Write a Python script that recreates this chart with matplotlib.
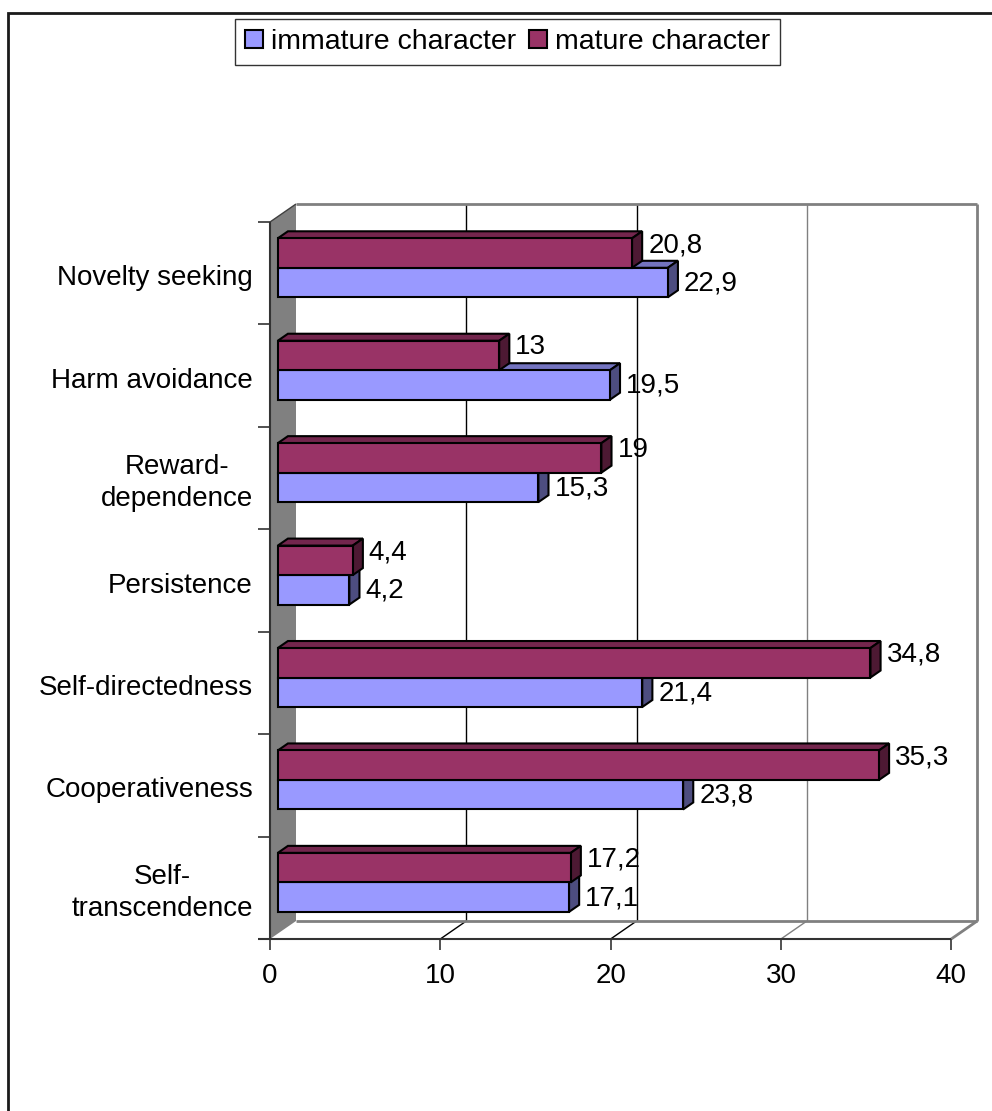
import matplotlib
matplotlib.use("Agg")
import matplotlib.pyplot as plt
from matplotlib.patches import Polygon, Rectangle, Patch

plt.rcParams['font.family'] = ['Liberation Sans', 'DejaVu Sans']

categories = ["Novelty seeking", "Harm avoidance", "Reward-\ndependence",
              "Persistence", "Self-directedness", "Cooperativeness",
              "Self-\ntranscendence"]
immature = [22.9, 19.5, 15.3, 4.2, 21.4, 23.8, 17.1]
mature = [20.8, 13, 19, 4.4, 34.8, 35.3, 17.2]
series_names = ["immature character", "mature character"]
xticks = [0, 10, 20, 30, 40]

# colours: front, top, side
IMM = ("#9999FF", "#7373BF", "#4D4D80")
MAT = ("#993366", "#73264D", "#4D1933")

W, H = 992, 1111
PX = 17.03      # pixels per value unit (front plane)
X0, Y0 = 270, 222
ROW = 102.43    # pixels per category

fig = plt.figure(figsize=(W / 100, H / 100), dpi=100)
ax = fig.add_axes([0, 0, 1, 1])
ax.axis("off")
ax.set_xlim(-X0 / PX, (W - X0) / PX)
ax.set_ylim((H - Y0) / ROW, -Y0 / ROW)

DX = 26 / PX
DY = -18 / ROW
n = len(categories)
vmax = xticks[-1]


def at(x, y, t):
    return (x + t * DX, y + t * DY)


def line(p, q, **kw):
    ax.plot([p[0], q[0]], [p[1], q[1]], solid_capstyle="butt", **kw)


# outer border
fig.patches.append(Rectangle((8 / W, -0.05), 1.2, 1 - 13 / H + 0.05,
                             transform=fig.transFigure, fill=False,
                             lw=2, ec="#1a1a1a"))

# left wall
ax.add_patch(Polygon([at(0, 0, 0), at(0, 0, 1), at(0, n, 1), at(0, n, 0)],
                     closed=True, fc="#808080", ec="none", zorder=1))

# back wall grid and floor
for v in xticks[1:]:
    c = "black" if v < 30 else "#808080"
    lw = 1 if v < vmax else 2
    line(at(v, 0, 1), at(v, n, 1), color=c, lw=lw, zorder=1)
    line(at(v, n, 0), at(v, n, 1), color=c, lw=lw, zorder=1)
line(at(0, 0, 1), at(vmax, 0, 1), color="#808080", lw=2, zorder=1)
line(at(0, n, 1), at(vmax, n, 1), color="#808080", lw=2, zorder=1)
line(at(0, 0, 0), at(0, 0, 1), color="#404040", lw=1, zorder=1)

# axes lines and ticks
line((-12 / PX, n), (vmax, n), color="#333333", lw=1.5, zorder=2)
line((0, 0), (0, n), color="#333333", lw=1.5, zorder=2)
for k in range(n + 1):
    line((-12 / PX, k), (0, k), color="#333333", lw=1.2, zorder=2)
for v in xticks:
    line((v, n), (v, n + 11 / ROW), color="#333333", lw=1.2, zorder=2)
    ax.text(v, n + 37 / ROW, str(v), ha="center", va="center", fontsize=20)

# category labels
for i, cat in enumerate(categories):
    ax.text(-17 / PX, i + 0.5 + 5 / ROW, cat, ha="right", va="center",
            multialignment="center", fontsize=20, linespacing=1.3)

T0, T1 = 0.3, 0.69
BH = 0.288


def draw_series(vals, cols, top_offset, lab_dy, z):
    for i, v in enumerate(vals):
        ytop = i + 0.5 + top_offset
        ybot = ytop + BH
        ax.add_patch(Polygon([at(0, ytop, T0), at(v, ytop, T0),
                              at(v, ytop, T1), at(0, ytop, T1)],
                             closed=True, fc=cols[1], ec="black", lw=1.5,
                             joinstyle="miter", zorder=z))
        ax.add_patch(Polygon([at(v, ytop, T0), at(v, ytop, T1),
                              at(v, ybot, T1), at(v, ybot, T0)],
                             closed=True, fc=cols[2], ec="black", lw=1.5,
                             joinstyle="miter", zorder=z))
        lx, ly = at(v, ytop + BH / 2, T1)
        ax.text(lx + 6 / PX, ytop + BH / 2 + T0 * DY + lab_dy / ROW,
                f"{v:g}".replace(".", ","), ha="left", va="center",
                fontsize=20, zorder=6)
    ys = [i + 0.5 + top_offset + BH / 2 + T0 * DY for i in range(len(vals))]
    ax.barh(ys, vals, height=BH, left=T0 * DX, color=cols[0],
            edgecolor="black", linewidth=1.5, zorder=z + 0.5)


draw_series(immature, IMM, 0.0, 1, 3)
draw_series(mature, MAT, -BH, -8, 4)

handles = [Patch(fc=IMM[0], ec="black", lw=1.5), Patch(fc=MAT[0], ec="black", lw=1.5)]
leg = fig.legend(handles, series_names, loc="center",
                 bbox_to_anchor=(507.5 / W, 1 - 42 / H), ncol=2, fontsize=20.5,
                 frameon=True, fancybox=False, edgecolor="black",
                 handlelength=0.62, handleheight=0.62, handletextpad=0.29,
                 columnspacing=0.45, borderpad=0.35, borderaxespad=0)
leg.get_frame().set_linewidth(1)

fig.savefig("out.png", dpi=100)
